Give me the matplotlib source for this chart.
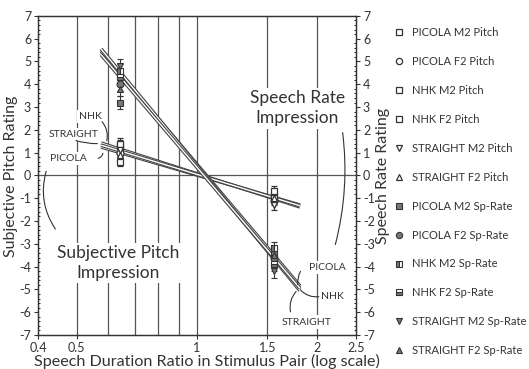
import numpy as np
import matplotlib
matplotlib.use("Agg")
import matplotlib.pyplot as plt
from matplotlib.lines import Line2D
from matplotlib.ticker import FixedLocator, NullFormatter, MultipleLocator

plt.rcParams["font.family"] = ["Lato", "DejaVu Sans"]
plt.rcParams["axes.unicode_minus"] = False

# stimulus pair ratios
x_short = 0.64
x_long = 1.56

series = ["PICOLA M2", "PICOLA F2", "NHK M2", "NHK F2", "STRAIGHT M2", "STRAIGHT F2"]

pitch_short = [1.3, 1.0, 0.6, 1.4, 1.1, 0.9]
pitch_long = [-0.9, -1.1, -1.0, -0.7, -1.3, -1.0]
pitch_err = [0.25, 0.2, 0.2, 0.25, 0.2, 0.2]

rate_short = [3.2, 4.0, 4.6, 4.3, 4.8, 3.8]
rate_long = [-3.4, -3.6, -3.2, -3.9, -4.2, -3.5]
rate_err = [0.3, 0.3, 0.3, 0.3, 0.3, 0.3]

# regression lines (endpoints)
line_x = [0.575, 1.81]
pitch_lines = {"PICOLA": [1.25, -1.3], "NHK": [1.42, -1.38], "STRAIGHT": [1.33, -1.33]}
rate_lines = {"PICOLA": [5.45, -4.85], "NHK": [5.55, -5.05], "STRAIGHT": [5.3, -4.95]}

markers = ["s", "o", "s", "s", "v", "^"]
rate_fill = ["full", "full", "left", "bottom", "full", "full"]

ink = "#333333"
fig = plt.figure(figsize=(5.29, 3.69), dpi=100)
ax = fig.add_axes([0.072, 0.092, 0.601, 0.865])
ax.set_xscale("log")
ax.set_xlim(0.4, 2.5)
ax.set_ylim(-7, 7)

for gx in [0.5, 0.6, 0.7, 0.8, 0.9, 1.0, 1.5, 2.0]:
    ax.axvline(gx, color="#555555", lw=0.9, zorder=1)
ax.axhline(0, color="#555555", lw=0.9, zorder=1)

# regression lines drawn as double lines
for ys in list(pitch_lines.values()) + list(rate_lines.values()):
    ax.plot(line_x, ys, color="#444444", lw=2.6, zorder=2, solid_capstyle="butt")
    ax.plot(line_x, ys, color="white", lw=1.0, zorder=2, solid_capstyle="butt")

handles = []
for i, s in enumerate(series):
    ax.errorbar([x_short, x_long], [pitch_short[i], pitch_long[i]], yerr=pitch_err[i],
                fmt=markers[i], ms=5, mfc="white", mec=ink, mew=0.9,
                ecolor=ink, elinewidth=0.8, capsize=2, zorder=4)
    handles.append(Line2D([], [], ls="none", marker=markers[i], ms=4.5, mfc="white",
                          mec=ink, mew=0.9, label=s + " Pitch"))
for i, s in enumerate(series):
    ax.errorbar([x_short, x_long], [rate_short[i], rate_long[i]], yerr=rate_err[i],
                fmt=markers[i], ms=5, mfc="#777777", mec=ink, mew=0.8,
                fillstyle=rate_fill[i], markerfacecoloralt="white",
                ecolor=ink, elinewidth=0.8, capsize=2, zorder=4)
    handles.append(Line2D([], [], ls="none", marker=markers[i], ms=4.5, mfc="#777777",
                          mec=ink, mew=0.8, fillstyle=rate_fill[i],
                          markerfacecoloralt="white", label=s + " Sp-Rate"))

ax.xaxis.set_major_locator(FixedLocator([0.4, 0.5, 1, 1.5, 2, 2.5]))
ax.xaxis.set_minor_locator(FixedLocator([]))
ax.xaxis.set_minor_formatter(NullFormatter())
ax.set_xticklabels(["0.4", "0.5", "1", "1.5", "2", "2.5"])
ax.yaxis.set_major_locator(MultipleLocator(1))
ax.yaxis.set_minor_locator(MultipleLocator(0.2))
ax.tick_params(axis="both", labelsize=9, length=3, color=ink, labelcolor=ink, pad=2)
ax.tick_params(axis="y", which="minor", length=1.5, direction="in")
ax.set_xlabel("Speech Duration Ratio in Stimulus Pair (log scale)", fontsize=11.6, color=ink)
ax.set_ylabel("Subjective Pitch Rating", fontsize=11.5, color=ink)
# place axis labels in figure pixels
ax.xaxis.set_label_coords(207 / 529, 1 - 366 / 369, transform=fig.transFigure)
ax.xaxis.label.set_va("baseline")
ax.yaxis.set_label_coords(11 / 529, 1 - 176 / 369, transform=fig.transFigure)
ax.yaxis.label.set_va("center")

ax2 = ax.twinx()
ax2.set_ylim(-7, 7)
ax2.yaxis.set_major_locator(MultipleLocator(1))
ax2.yaxis.set_minor_locator(MultipleLocator(0.2))
ax2.tick_params(axis="y", labelsize=9, length=3, color=ink, labelcolor=ink, pad=2)
ax2.tick_params(axis="y", which="minor", length=1.5, direction="in")
ax2.set_ylabel("Speech Rate Rating", fontsize=11.5, color=ink, labelpad=1)

box = dict(facecolor="white", edgecolor="none", pad=1.5)
ax.text(1.78, 2.95, "Speech Rate\nImpression", fontsize=12.5, ha="center", va="center",
        color=ink, bbox=box, zorder=3, linespacing=1.35)
ax.text(0.634, -3.85, "Subjective Pitch\nImpression", fontsize=12.5, ha="center", va="center",
        color=ink, bbox=box, zorder=3, linespacing=1.3)

lab = dict(fontsize=7.5, color=ink, ha="center", va="center", bbox=box, zorder=3)
ax.text(0.54, 2.58, "NHK", **lab)
ax.text(0.49, 1.8, "STRAIGHT", **lab)
ax.text(0.475, 0.74, "PICOLA", **lab)
ax.text(2.12, -4.03, "PICOLA", **lab)
ax.text(2.18, -5.3, "NHK", **lab)
ax.text(1.88, -6.43, "STRAIGHT", **lab)

conn = dict(arrowstyle="-", color=ink, lw=0.8)
ax.annotate("", xy=(0.592, 1.4), xytext=(0.572, 2.45),
            arrowprops=dict(conn, connectionstyle="arc3,rad=-0.3"))
ax.annotate("", xy=(0.572, 1.4), xytext=(0.49, 1.57),
            arrowprops=dict(conn, connectionstyle="arc3,rad=0.1"))
ax.annotate("", xy=(0.582, 1.09), xytext=(0.556, 0.74),
            arrowprops=dict(conn, connectionstyle="arc3,rad=0.5"))
ax.annotate("", xy=(1.79, -4.9), xytext=(1.83, -4.1),
            arrowprops=dict(conn, connectionstyle="arc3,rad=0.2"))
ax.annotate("", xy=(1.8, -4.95), xytext=(2.05, -5.3),
            arrowprops=dict(conn, connectionstyle="arc3,rad=-0.3"))
ax.annotate("", xy=(1.79, -5.0), xytext=(1.72, -6.1),
            arrowprops=dict(conn, connectionstyle="arc3,rad=-0.3"))
ax.annotate("", xy=(0.446, -2.45), xytext=(0.421, 0.3),
            arrowprops=dict(conn, connectionstyle="arc3,rad=0.25"))
ax.annotate("", xy=(2.21, -3.15), xytext=(2.31, 2.0),
            arrowprops=dict(conn, connectionstyle="arc3,rad=-0.1"))

for a in (ax, ax2):
    for sp in a.spines.values():
        sp.set_color(ink)
        sp.set_linewidth(0.9)

fig.legend(handles=handles, loc="upper left", bbox_to_anchor=(0.745, 0.926), frameon=False,
           fontsize=8, labelspacing=1.61, handlelength=0.8, handletextpad=0.8,
           borderaxespad=0, borderpad=0, labelcolor=ink)

fig.savefig("out.png", dpi=100)
